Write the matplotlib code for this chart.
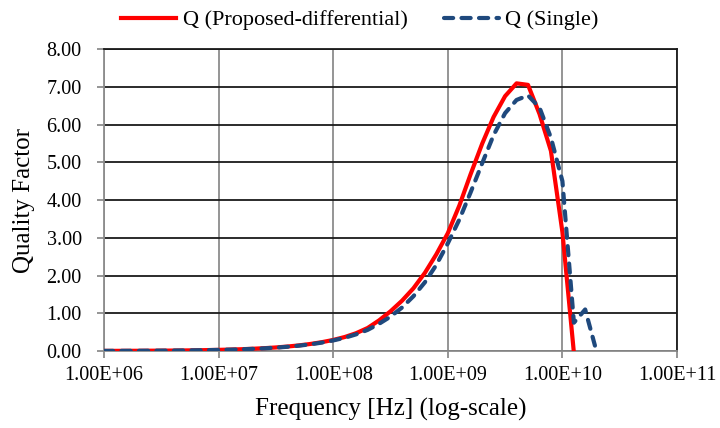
import matplotlib
matplotlib.use("Agg")
import matplotlib.pyplot as plt
from matplotlib.ticker import FixedLocator, FuncFormatter, NullLocator

plt.rcParams['font.family'] = ['Liberation Serif', 'DejaVu Serif']

# sweep frequencies [Hz], 10 points per decade
freq = [1.00e6, 1.26e6, 1.58e6, 2.00e6, 2.51e6, 3.16e6, 3.98e6, 5.01e6, 6.31e6, 7.94e6,
        1.00e7, 1.26e7, 1.58e7, 2.00e7, 2.51e7, 3.16e7, 3.98e7, 5.01e7, 6.31e7, 7.94e7,
        1.00e8, 1.26e8, 1.58e8, 2.00e8, 2.51e8, 3.16e8, 3.98e8, 5.01e8, 6.31e8, 7.94e8,
        1.00e9, 1.26e9, 1.58e9, 2.00e9, 2.51e9, 3.16e9, 3.98e9, 5.01e9, 6.31e9, 7.94e9,
        1.00e10, 1.26e10, 1.58e10, 2.00e10]

q_diff = [0.003, 0.004, 0.005, 0.006, 0.008, 0.010, 0.012, 0.015, 0.019, 0.024,
          0.030, 0.038, 0.047, 0.060, 0.075, 0.094, 0.118, 0.148, 0.186, 0.233,
          0.293, 0.37, 0.47, 0.61, 0.81, 1.05, 1.33, 1.66, 2.07, 2.56,
          3.12, 3.85, 4.68, 5.50, 6.20, 6.75, 7.09, 7.05, 6.28, 5.30,
          3.15, -0.05]

q_single = [0.003, 0.004, 0.005, 0.006, 0.008, 0.010, 0.012, 0.015, 0.019, 0.023,
            0.029, 0.036, 0.045, 0.057, 0.071, 0.089, 0.112, 0.141, 0.177, 0.222,
            0.28, 0.35, 0.44, 0.56, 0.72, 0.91, 1.15, 1.45, 1.82, 2.28,
            2.85, 3.48, 4.20, 4.98, 5.72, 6.30, 6.65, 6.77, 6.45, 5.65,
            4.50, 0.75, 1.10, -0.05]

x_ticks = [1e6, 1e7, 1e8, 1e9, 1e10, 1e11]
y_ticks = [0, 1, 2, 3, 4, 5, 6, 7, 8]

fig = plt.figure(figsize=(7.2, 4.28), dpi=100)
ax = fig.add_axes([0.1444, 0.1799, 0.7959, 0.7056])

ax.plot(freq[:len(q_diff)], q_diff, color='#ff0000', lw=3.0,
        label='Q (Proposed-differential)', zorder=3)
ax.plot(freq, q_single, color='#1f497d', lw=3.0, ls=(0, (2.2, 2.0)),
        dash_capstyle='round', label='Q (Single)', zorder=4)

ax.set_xscale('log')
ax.set_xlim(1e6, 1e11)
ax.set_ylim(0, 8)
ax.xaxis.set_major_locator(FixedLocator(x_ticks))
ax.xaxis.set_minor_locator(NullLocator())
ax.xaxis.set_major_formatter(FuncFormatter(lambda v, p: '{:.2E}'.format(v)))
ax.yaxis.set_major_locator(FixedLocator(y_ticks))
ax.yaxis.set_major_formatter(FuncFormatter(lambda v, p: '%.2f' % v))

# vertical grid grey, horizontal grid black
ax.grid(axis='x', color='#8c8c8c', lw=1.3)
ax.grid(axis='y', color='#1a1a1a', lw=1.3)
ax.set_axisbelow(True)

for side in ('left', 'bottom'):
    ax.spines[side].set_color('#8c8c8c')
    ax.spines[side].set_linewidth(1.3)
for side in ('top', 'right'):
    ax.spines[side].set_color('#1a1a1a')
    ax.spines[side].set_linewidth(1.3)

ax.tick_params(axis='both', direction='out', length=5, width=1.3,
               color='#8c8c8c', labelsize=14.5)
ax.tick_params(axis='y', pad=11)
ax.tick_params(axis='x', pad=6)

ax.set_xlabel('Frequency [Hz] (log-scale)', fontsize=18, labelpad=9)
ax.set_ylabel('Quality Factor', fontsize=18, labelpad=8)

# legend centred on the figure rather than the axes
ax.legend(loc='lower center', bbox_to_anchor=(0.4468, 1.032), ncol=2,
          frameon=False, fontsize=16, handlelength=2.45, columnspacing=1.65,
          handletextpad=0.3, borderaxespad=0)

fig.savefig('out.png', dpi=100)
